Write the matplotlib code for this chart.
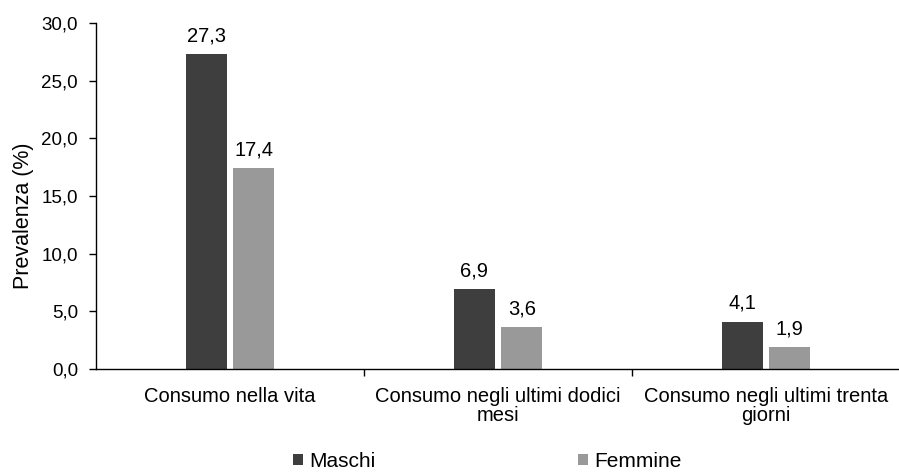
import matplotlib
matplotlib.use("Agg")
import matplotlib.pyplot as plt
import numpy as np

categories = ["Consumo nella vita", "Consumo negli ultimi dodici\nmesi", "Consumo negli ultimi trenta\ngiorni"]
maschi = [27.3, 6.9, 4.1]
femmine = [17.4, 3.6, 1.9]
series_names = ["Maschi", "Femmine"]
yticks = [0, 5, 10, 15, 20, 25, 30]

plt.rcParams['font.family'] = ['Liberation Sans', 'DejaVu Sans']

W, H = 899, 473
fig = plt.figure(figsize=(W / 100, H / 100), dpi=100)
ax = fig.add_axes([96 / W, (H - 369) / H, (900 - 96) / W, 346 / H])

x = np.arange(len(categories))
w = 0.153
gap = 0.024
b1 = ax.bar(x - w/2 - gap/2, maschi, w, color="#3e3e3e", label=series_names[0])
b2 = ax.bar(x + w/2 + gap/2, femmine, w, color="#999999", label=series_names[1])

def fmt(v):
    return f"{v:.1f}".replace(".", ",")

for bars, vals in ((b1, maschi), (b2, femmine)):
    for r, v in zip(bars, vals):
        ax.annotate(fmt(v), (r.get_x() + r.get_width()/2, v), xytext=(0, 6.5),
                    textcoords="offset points", ha="center", va="bottom", fontsize=14.5)

ax.set_ylim(0, 30)
ax.set_yticks(yticks)
ax.set_yticklabels([fmt(v) for v in yticks], fontsize=13.5)
ax.set_xlim(-0.5, 2.5)
ax.set_xticks(x)
ax.set_xticklabels(categories, fontsize=14.5, linespacing=1.0)
ax.tick_params(axis="x", which="major", length=0, pad=13)
ax.set_xticks([0.5, 1.5, 2.5], minor=True)
ax.tick_params(axis="x", which="minor", length=5, direction="out", width=1)
ax.tick_params(axis="y", length=5, direction="out", pad=8, width=1)
ax.spines["top"].set_visible(False)
ax.spines["right"].set_visible(False)
for s in ("left", "bottom"):
    ax.spines[s].set_linewidth(1.0)
ax.set_ylabel("Prevalenza (%)", fontsize=15.5)
ax.yaxis.set_label_coords(-62 / 804, 0.442)

fig.legend(handles=[b1, b2], labels=series_names, loc="upper left",
           bbox_to_anchor=(293 / W, 1 - 452 / H), ncol=2, frameon=False, fontsize=15,
           borderpad=0, borderaxespad=0,
           handlelength=0.48, handleheight=0.48, handletextpad=0.3, columnspacing=9.7)

fig.savefig("out.png", dpi=100)
